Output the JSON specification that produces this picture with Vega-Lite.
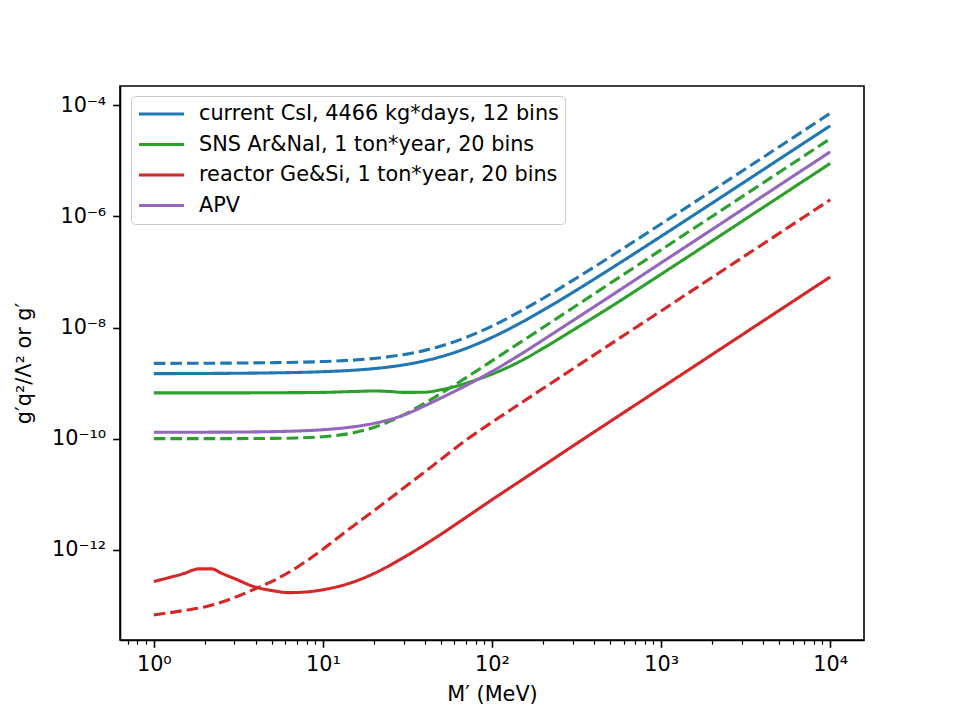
{
  "$schema": "https://vega.github.io/schema/vega-lite/v6.json",
  "width": 744,
  "height": 554,
  "autosize": {"type": "none"},
  "padding": {"left": 120, "top": 86, "right": 96, "bottom": 80},
  "background": "white",
  "config": {
    "font": "DejaVu Sans",
    "view": {"stroke": "black", "strokeWidth": 1.6},
    "axis": {
      "domainColor": "black", "domainWidth": 1.6, "tickColor": "black",
      "labelFont": "DejaVu Sans", "labelFontSize": 20.8, "labelColor": "black",
      "titleFont": "DejaVu Sans", "titleFontSize": 20.8, "titleFontWeight": "normal", "titleColor": "black",
      "grid": false, "labelOverlap": false, "labelFlush": false
    }
  },
  "data": {"values": [
    {"series":"current CsI, 4466 kg*days, 12 bins","style":"dashed","M":1,"g":2.262e-9},
    {"series":"current CsI, 4466 kg*days, 12 bins","style":"dashed","M":2,"g":2.277e-9},
    {"series":"current CsI, 4466 kg*days, 12 bins","style":"dashed","M":3,"g":2.293e-9},
    {"series":"current CsI, 4466 kg*days, 12 bins","style":"dashed","M":5,"g":2.328e-9},
    {"series":"current CsI, 4466 kg*days, 12 bins","style":"dashed","M":10,"g":2.442e-9},
    {"series":"current CsI, 4466 kg*days, 12 bins","style":"dashed","M":15,"g":2.592e-9},
    {"series":"current CsI, 4466 kg*days, 12 bins","style":"dashed","M":20,"g":2.777e-9},
    {"series":"current CsI, 4466 kg*days, 12 bins","style":"dashed","M":30,"g":3.256e-9},
    {"series":"current CsI, 4466 kg*days, 12 bins","style":"dashed","M":40,"g":3.879e-9},
    {"series":"current CsI, 4466 kg*days, 12 bins","style":"dashed","M":50,"g":4.645e-9},
    {"series":"current CsI, 4466 kg*days, 12 bins","style":"dashed","M":70,"g":6.608e-9},
    {"series":"current CsI, 4466 kg*days, 12 bins","style":"dashed","M":100,"g":1.063e-8},
    {"series":"current CsI, 4466 kg*days, 12 bins","style":"dashed","M":150,"g":2.021e-8},
    {"series":"current CsI, 4466 kg*days, 12 bins","style":"dashed","M":200,"g":3.337e-8},
    {"series":"current CsI, 4466 kg*days, 12 bins","style":"dashed","M":300,"g":7.047e-8},
    {"series":"current CsI, 4466 kg*days, 12 bins","style":"dashed","M":500,"g":1.878e-7},
    {"series":"current CsI, 4466 kg*days, 12 bins","style":"dashed","M":1000,"g":7.322e-7},
    {"series":"current CsI, 4466 kg*days, 12 bins","style":"dashed","M":2000,"g":2.898e-6},
    {"series":"current CsI, 4466 kg*days, 12 bins","style":"dashed","M":5000,"g":1.801e-5},
    {"series":"current CsI, 4466 kg*days, 12 bins","style":"dashed","M":10000,"g":7.192e-5},

    {"series":"current CsI, 4466 kg*days, 12 bins","style":"solid","M":1,"g":1.479e-9},
    {"series":"current CsI, 4466 kg*days, 12 bins","style":"solid","M":2,"g":1.490e-9},
    {"series":"current CsI, 4466 kg*days, 12 bins","style":"solid","M":3,"g":1.501e-9},
    {"series":"current CsI, 4466 kg*days, 12 bins","style":"solid","M":5,"g":1.526e-9},
    {"series":"current CsI, 4466 kg*days, 12 bins","style":"solid","M":10,"g":1.603e-9},
    {"series":"current CsI, 4466 kg*days, 12 bins","style":"solid","M":15,"g":1.701e-9},
    {"series":"current CsI, 4466 kg*days, 12 bins","style":"solid","M":20,"g":1.821e-9},
    {"series":"current CsI, 4466 kg*days, 12 bins","style":"solid","M":30,"g":2.125e-9},
    {"series":"current CsI, 4466 kg*days, 12 bins","style":"solid","M":40,"g":2.515e-9},
    {"series":"current CsI, 4466 kg*days, 12 bins","style":"solid","M":50,"g":2.990e-9},
    {"series":"current CsI, 4466 kg*days, 12 bins","style":"solid","M":70,"g":4.197e-9},
    {"series":"current CsI, 4466 kg*days, 12 bins","style":"solid","M":100,"g":6.650e-9},
    {"series":"current CsI, 4466 kg*days, 12 bins","style":"solid","M":150,"g":1.245e-8},
    {"series":"current CsI, 4466 kg*days, 12 bins","style":"solid","M":200,"g":2.039e-8},
    {"series":"current CsI, 4466 kg*days, 12 bins","style":"solid","M":300,"g":4.269e-8},
    {"series":"current CsI, 4466 kg*days, 12 bins","style":"solid","M":500,"g":1.130e-7},
    {"series":"current CsI, 4466 kg*days, 12 bins","style":"solid","M":1000,"g":4.385e-7},
    {"series":"current CsI, 4466 kg*days, 12 bins","style":"solid","M":2000,"g":1.731e-6},
    {"series":"current CsI, 4466 kg*days, 12 bins","style":"solid","M":5000,"g":1.075e-5},
    {"series":"current CsI, 4466 kg*days, 12 bins","style":"solid","M":10000,"g":4.289e-5},

    {"series":"SNS Ar&NaI, 1 ton*year, 20 bins","style":"solid","M":1,"g":6.668e-10},
    {"series":"SNS Ar&NaI, 1 ton*year, 20 bins","style":"solid","M":2,"g":6.668e-10},
    {"series":"SNS Ar&NaI, 1 ton*year, 20 bins","style":"solid","M":3,"g":6.670e-10},
    {"series":"SNS Ar&NaI, 1 ton*year, 20 bins","style":"solid","M":5,"g":6.700e-10},
    {"series":"SNS Ar&NaI, 1 ton*year, 20 bins","style":"solid","M":10,"g":6.800e-10},
    {"series":"SNS Ar&NaI, 1 ton*year, 20 bins","style":"solid","M":15,"g":7.050e-10},
    {"series":"SNS Ar&NaI, 1 ton*year, 20 bins","style":"solid","M":20,"g":7.200e-10},
    {"series":"SNS Ar&NaI, 1 ton*year, 20 bins","style":"solid","M":25,"g":7.050e-10},
    {"series":"SNS Ar&NaI, 1 ton*year, 20 bins","style":"solid","M":30,"g":6.800e-10},
    {"series":"SNS Ar&NaI, 1 ton*year, 20 bins","style":"solid","M":40,"g":6.850e-10},
    {"series":"SNS Ar&NaI, 1 ton*year, 20 bins","style":"solid","M":50,"g":7.600e-10},
    {"series":"SNS Ar&NaI, 1 ton*year, 20 bins","style":"solid","M":60,"g":8.600e-10},
    {"series":"SNS Ar&NaI, 1 ton*year, 20 bins","style":"solid","M":70,"g":9.900e-10},
    {"series":"SNS Ar&NaI, 1 ton*year, 20 bins","style":"solid","M":100,"g":1.450e-9},
    {"series":"SNS Ar&NaI, 1 ton*year, 20 bins","style":"solid","M":150,"g":2.550e-9},
    {"series":"SNS Ar&NaI, 1 ton*year, 20 bins","style":"solid","M":200,"g":4.200e-9},
    {"series":"SNS Ar&NaI, 1 ton*year, 20 bins","style":"solid","M":300,"g":8.900e-9},
    {"series":"SNS Ar&NaI, 1 ton*year, 20 bins","style":"solid","M":500,"g":2.330e-8},
    {"series":"SNS Ar&NaI, 1 ton*year, 20 bins","style":"solid","M":1000,"g":9.100e-8},
    {"series":"SNS Ar&NaI, 1 ton*year, 20 bins","style":"solid","M":2000,"g":3.610e-7},
    {"series":"SNS Ar&NaI, 1 ton*year, 20 bins","style":"solid","M":5000,"g":2.250e-6},
    {"series":"SNS Ar&NaI, 1 ton*year, 20 bins","style":"solid","M":10000,"g":9.000e-6},

    {"series":"SNS Ar&NaI, 1 ton*year, 20 bins","style":"dashed","M":1,"g":1.000e-10},
    {"series":"SNS Ar&NaI, 1 ton*year, 20 bins","style":"dashed","M":2,"g":1.001e-10},
    {"series":"SNS Ar&NaI, 1 ton*year, 20 bins","style":"dashed","M":3,"g":1.002e-10},
    {"series":"SNS Ar&NaI, 1 ton*year, 20 bins","style":"dashed","M":5,"g":1.010e-10},
    {"series":"SNS Ar&NaI, 1 ton*year, 20 bins","style":"dashed","M":7,"g":1.029e-10},
    {"series":"SNS Ar&NaI, 1 ton*year, 20 bins","style":"dashed","M":10,"g":1.082e-10},
    {"series":"SNS Ar&NaI, 1 ton*year, 20 bins","style":"dashed","M":15,"g":1.264e-10},
    {"series":"SNS Ar&NaI, 1 ton*year, 20 bins","style":"dashed","M":20,"g":1.587e-10},
    {"series":"SNS Ar&NaI, 1 ton*year, 20 bins","style":"dashed","M":30,"g":2.674e-10},
    {"series":"SNS Ar&NaI, 1 ton*year, 20 bins","style":"dashed","M":40,"g":4.327e-10},
    {"series":"SNS Ar&NaI, 1 ton*year, 20 bins","style":"dashed","M":50,"g":6.510e-10},
    {"series":"SNS Ar&NaI, 1 ton*year, 20 bins","style":"dashed","M":70,"g":1.242e-9},
    {"series":"SNS Ar&NaI, 1 ton*year, 20 bins","style":"dashed","M":100,"g":2.513e-9},
    {"series":"SNS Ar&NaI, 1 ton*year, 20 bins","style":"dashed","M":150,"g":5.630e-9},
    {"series":"SNS Ar&NaI, 1 ton*year, 20 bins","style":"dashed","M":200,"g":1.000e-8},
    {"series":"SNS Ar&NaI, 1 ton*year, 20 bins","style":"dashed","M":300,"g":2.250e-8},
    {"series":"SNS Ar&NaI, 1 ton*year, 20 bins","style":"dashed","M":500,"g":6.250e-8},
    {"series":"SNS Ar&NaI, 1 ton*year, 20 bins","style":"dashed","M":1000,"g":2.500e-7},
    {"series":"SNS Ar&NaI, 1 ton*year, 20 bins","style":"dashed","M":2000,"g":1.000e-6},
    {"series":"SNS Ar&NaI, 1 ton*year, 20 bins","style":"dashed","M":5000,"g":6.250e-6},
    {"series":"SNS Ar&NaI, 1 ton*year, 20 bins","style":"dashed","M":10000,"g":2.500e-5},

    {"series":"reactor Ge&Si, 1 ton*year, 20 bins","style":"solid","M":1,"g":2.673e-13},
    {"series":"reactor Ge&Si, 1 ton*year, 20 bins","style":"solid","M":1.5,"g":3.715e-13},
    {"series":"reactor Ge&Si, 1 ton*year, 20 bins","style":"solid","M":1.85,"g":4.529e-13},
    {"series":"reactor Ge&Si, 1 ton*year, 20 bins","style":"solid","M":2.2,"g":4.529e-13},
    {"series":"reactor Ge&Si, 1 ton*year, 20 bins","style":"solid","M":2.5,"g":3.802e-13},
    {"series":"reactor Ge&Si, 1 ton*year, 20 bins","style":"solid","M":3,"g":3.020e-13},
    {"series":"reactor Ge&Si, 1 ton*year, 20 bins","style":"solid","M":4,"g":2.118e-13},
    {"series":"reactor Ge&Si, 1 ton*year, 20 bins","style":"solid","M":5,"g":1.841e-13},
    {"series":"reactor Ge&Si, 1 ton*year, 20 bins","style":"solid","M":6.3,"g":1.690e-13},
    {"series":"reactor Ge&Si, 1 ton*year, 20 bins","style":"solid","M":8,"g":1.738e-13},
    {"series":"reactor Ge&Si, 1 ton*year, 20 bins","style":"solid","M":10,"g":1.905e-13},
    {"series":"reactor Ge&Si, 1 ton*year, 20 bins","style":"solid","M":15,"g":2.600e-13},
    {"series":"reactor Ge&Si, 1 ton*year, 20 bins","style":"solid","M":20,"g":3.715e-13},
    {"series":"reactor Ge&Si, 1 ton*year, 20 bins","style":"solid","M":30,"g":7.244e-13},
    {"series":"reactor Ge&Si, 1 ton*year, 20 bins","style":"solid","M":40,"g":1.230e-12},
    {"series":"reactor Ge&Si, 1 ton*year, 20 bins","style":"solid","M":50,"g":1.905e-12},
    {"series":"reactor Ge&Si, 1 ton*year, 20 bins","style":"solid","M":70,"g":3.802e-12},
    {"series":"reactor Ge&Si, 1 ton*year, 20 bins","style":"solid","M":100,"g":7.943e-12},
    {"series":"reactor Ge&Si, 1 ton*year, 20 bins","style":"solid","M":150,"g":1.799e-11},
    {"series":"reactor Ge&Si, 1 ton*year, 20 bins","style":"solid","M":200,"g":3.214e-11},
    {"series":"reactor Ge&Si, 1 ton*year, 20 bins","style":"solid","M":300,"g":7.328e-11},
    {"series":"reactor Ge&Si, 1 ton*year, 20 bins","style":"solid","M":500,"g":2.037e-10},
    {"series":"reactor Ge&Si, 1 ton*year, 20 bins","style":"solid","M":1000,"g":8.147e-10},
    {"series":"reactor Ge&Si, 1 ton*year, 20 bins","style":"solid","M":2000,"g":3.258e-9},
    {"series":"reactor Ge&Si, 1 ton*year, 20 bins","style":"solid","M":5000,"g":2.037e-8},
    {"series":"reactor Ge&Si, 1 ton*year, 20 bins","style":"solid","M":10000,"g":8.147e-8},

    {"series":"reactor Ge&Si, 1 ton*year, 20 bins","style":"dashed","M":1,"g":6.699e-14},
    {"series":"reactor Ge&Si, 1 ton*year, 20 bins","style":"dashed","M":1.5,"g":8.035e-14},
    {"series":"reactor Ge&Si, 1 ton*year, 20 bins","style":"dashed","M":2,"g":9.333e-14},
    {"series":"reactor Ge&Si, 1 ton*year, 20 bins","style":"dashed","M":3,"g":1.380e-13},
    {"series":"reactor Ge&Si, 1 ton*year, 20 bins","style":"dashed","M":4,"g":1.995e-13},
    {"series":"reactor Ge&Si, 1 ton*year, 20 bins","style":"dashed","M":5,"g":2.692e-13},
    {"series":"reactor Ge&Si, 1 ton*year, 20 bins","style":"dashed","M":7,"g":4.786e-13},
    {"series":"reactor Ge&Si, 1 ton*year, 20 bins","style":"dashed","M":10,"g":1.023e-12},
    {"series":"reactor Ge&Si, 1 ton*year, 20 bins","style":"dashed","M":15,"g":2.630e-12},
    {"series":"reactor Ge&Si, 1 ton*year, 20 bins","style":"dashed","M":20,"g":5.012e-12},
    {"series":"reactor Ge&Si, 1 ton*year, 20 bins","style":"dashed","M":30,"g":1.288e-11},
    {"series":"reactor Ge&Si, 1 ton*year, 20 bins","style":"dashed","M":40,"g":2.512e-11},
    {"series":"reactor Ge&Si, 1 ton*year, 20 bins","style":"dashed","M":50,"g":4.266e-11},
    {"series":"reactor Ge&Si, 1 ton*year, 20 bins","style":"dashed","M":70,"g":9.333e-11},
    {"series":"reactor Ge&Si, 1 ton*year, 20 bins","style":"dashed","M":100,"g":1.972e-10},
    {"series":"reactor Ge&Si, 1 ton*year, 20 bins","style":"dashed","M":150,"g":4.467e-10},
    {"series":"reactor Ge&Si, 1 ton*year, 20 bins","style":"dashed","M":200,"g":7.962e-10},
    {"series":"reactor Ge&Si, 1 ton*year, 20 bins","style":"dashed","M":300,"g":1.791e-9},
    {"series":"reactor Ge&Si, 1 ton*year, 20 bins","style":"dashed","M":500,"g":4.977e-9},
    {"series":"reactor Ge&Si, 1 ton*year, 20 bins","style":"dashed","M":1000,"g":1.991e-8},
    {"series":"reactor Ge&Si, 1 ton*year, 20 bins","style":"dashed","M":2000,"g":7.962e-8},
    {"series":"reactor Ge&Si, 1 ton*year, 20 bins","style":"dashed","M":5000,"g":4.977e-7},
    {"series":"reactor Ge&Si, 1 ton*year, 20 bins","style":"dashed","M":10000,"g":1.991e-6},

    {"series":"APV","style":"solid","M":1,"g":1.300e-10},
    {"series":"APV","style":"solid","M":2,"g":1.306e-10},
    {"series":"APV","style":"solid","M":3,"g":1.313e-10},
    {"series":"APV","style":"solid","M":5,"g":1.336e-10},
    {"series":"APV","style":"solid","M":7,"g":1.371e-10},
    {"series":"APV","style":"solid","M":10,"g":1.446e-10},
    {"series":"APV","style":"solid","M":15,"g":1.627e-10},
    {"series":"APV","style":"solid","M":20,"g":1.880e-10},
    {"series":"APV","style":"solid","M":30,"g":2.650e-10},
    {"series":"APV","style":"solid","M":40,"g":3.900e-10},
    {"series":"APV","style":"solid","M":50,"g":5.400e-10},
    {"series":"APV","style":"solid","M":70,"g":9.000e-10},
    {"series":"APV","style":"solid","M":100,"g":1.620e-9},
    {"series":"APV","style":"solid","M":150,"g":3.400e-9},
    {"series":"APV","style":"solid","M":200,"g":5.950e-9},
    {"series":"APV","style":"solid","M":300,"g":1.325e-8},
    {"series":"APV","style":"solid","M":500,"g":3.650e-8},
    {"series":"APV","style":"solid","M":1000,"g":1.460e-7},
    {"series":"APV","style":"solid","M":2000,"g":5.820e-7},
    {"series":"APV","style":"solid","M":5000,"g":3.640e-6},
    {"series":"APV","style":"solid","M":10000,"g":1.455e-5}
  ]},
  "mark": {"type": "line", "strokeWidth": 3.1, "interpolate": "monotone", "clip": true},
  "encoding": {
    "x": {
      "field": "M", "type": "quantitative",
      "scale": {"type": "log", "domain": [0.631, 15849], "nice": false},
      "axis": {
        "title": "M′ (MeV)",
        "titlePadding": 10,
        "values": [0.7,0.8,0.9,1,2,3,4,5,6,7,8,9,10,20,30,40,50,60,70,80,90,100,200,300,400,500,600,700,800,900,1000,2000,3000,4000,5000,6000,7000,8000,9000,10000],
        "labelExpr": "datum.value == 1 ? '10⁰' : datum.value == 10 ? '10¹' : datum.value == 100 ? '10²' : datum.value == 1000 ? '10³' : datum.value == 10000 ? '10⁴' : ''",
        "tickSize": {"condition": {"test": "indexof([1,10,100,1000,10000], datum.value) >= 0", "value": 7.3}, "value": 4.2},
        "tickWidth": {"condition": {"test": "indexof([1,10,100,1000,10000], datum.value) >= 0", "value": 1.6}, "value": 1.2},
        "labelPadding": 7
      }
    },
    "y": {
      "field": "g", "type": "quantitative",
      "scale": {"type": "log", "domain": [2.37e-14, 2.23e-4], "nice": false},
      "axis": {
        "title": "g′q²/Λ² or g′",
        "titlePadding": 17,
        "values": [1e-12, 1e-10, 1e-8, 1e-6, 1e-4],
        "labelExpr": "datum.value < 1e-11 ? '10⁻¹²' : datum.value < 1e-9 ? '10⁻¹⁰' : datum.value < 1e-7 ? '10⁻⁸' : datum.value < 1e-5 ? '10⁻⁶' : '10⁻⁴'",
        "tickSize": 7.3,
        "tickWidth": 1.6,
        "labelPadding": 7
      }
    },
    "color": {
      "field": "series", "type": "nominal",
      "scale": {
        "domain": ["current CsI, 4466 kg*days, 12 bins", "SNS Ar&NaI, 1 ton*year, 20 bins", "reactor Ge&Si, 1 ton*year, 20 bins", "APV"],
        "range": ["#1f77b4", "#2ca02c", "#d62728", "#9467bd"]
      },
      "legend": {
        "title": null,
        "orient": "none", "legendX": 11, "legendY": 10,
        "symbolType": "stroke", "symbolSize": 2025, "symbolStrokeWidth": 3.1,
        "labelFont": "DejaVu Sans", "labelFontSize": 20.8, "labelColor": "black", "labelLimit": 0,
        "labelOffset": 13, "rowPadding": 6.5, "clipHeight": 24,
        "fillColor": "rgba(255,255,255,0.8)", "strokeColor": "#cccccc", "cornerRadius": 4, "padding": 6
      }
    },
    "strokeDash": {
      "field": "style", "type": "nominal",
      "scale": {"domain": ["solid", "dashed"], "range": [[1, 0], [11.6, 5]]},
      "legend": null
    }
  }
}
